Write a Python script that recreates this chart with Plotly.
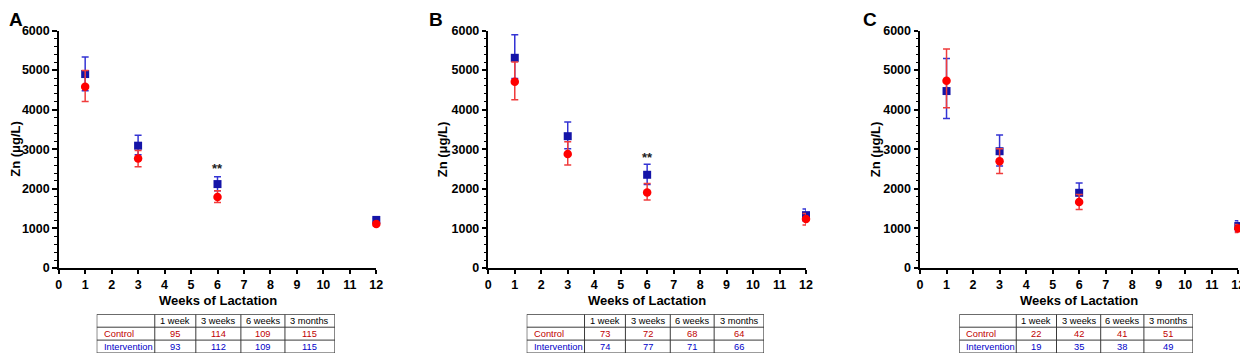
import plotly.graph_objects as go

# ---------------- data ----------------
weeks = [1, 3, 6, 12]
time_labels = ["1 week", "3 weeks", "6 weeks", "3 months"]
group_labels = ["Control", "Intervention"]
panel_letters = ["A", "B", "C"]

# Zn (ug/L) means and error bars (upper / lower)
A_control = [4580, 2765, 1795, 1110]
A_control_up = [410, 205, 155, 55]
A_control_dn = [375, 205, 140, 55]
A_interv = [4900, 3090, 2120, 1215]
A_interv_up = [430, 265, 185, 45]
A_interv_dn = [420, 230, 170, 45]

B_control = [4705, 2880, 1910, 1235]
B_control_up = [500, 310, 225, 140]
B_control_dn = [455, 275, 195, 150]
B_interv = [5310, 3330, 2355, 1335]
B_interv_up = [580, 360, 265, 155]
B_interv_dn = [520, 320, 245, 150]

C_control = [4730, 2700, 1665, 1000]
C_control_up = [800, 310, 190, 100]
C_control_dn = [680, 310, 185, 100]
C_interv = [4470, 2950, 1900, 1060]
C_interv_up = [825, 410, 250, 135]
C_interv_dn = [690, 370, 250, 135]

# significance marks
sig_week = [6, 6, None]
sig_level = [2590, 2880, None]

# sample sizes
A_n_control = [95, 114, 109, 115]
A_n_interv = [93, 112, 109, 115]
B_n_control = [73, 72, 68, 64]
B_n_interv = [74, 77, 71, 66]
C_n_control = [22, 42, 41, 51]
C_n_interv = [19, 35, 38, 49]

# ---------------- style ----------------
OFF = 8                      # page body margin of the written html
W, H = 1248 - OFF, 356 - OFF
FONT = "Arial, Liberation Sans, sans-serif"
RED = "#FF0000"
RED_ERR = "#F03C3C"
BLUE = "#1414A8"
BLUE_ERR = "#3434D4"
TXT_RED = "#C00000"
TXT_BLUE = "#0000C8"
GRID = "#3a3a3a"
TABLE_FONT = 9.3

def px_x(p):
    return (p - OFF) / W

def px_y(p):
    return 1 - (p - OFF) / H

plot_x = [(58.7, 376.3), (488.3, 806.0), (920.0, 1238.3)]
plot_y = (30.5, 268.0)
table_x = [(96.7, 335.0), (526.7, 764.0), (959.3, 1193.0)]
table_y = (314.3, 353.0)
col_w = [58, 41, 45, 44, 50]
letter_x = [16, 436, 870]
ytitle_x = [15.5, 442, 875]

panels = [
    (A_control, A_control_up, A_control_dn, A_interv, A_interv_up, A_interv_dn, A_n_control, A_n_interv),
    (B_control, B_control_up, B_control_dn, B_interv, B_interv_up, B_interv_dn, B_n_control, B_n_interv),
    (C_control, C_control_up, C_control_dn, C_interv, C_interv_up, C_interv_dn, C_n_control, C_n_interv),
]

fig = go.Figure()
annotations = []
shapes = []
layout = {}

for i, (ctl, ctl_up, ctl_dn, itv, itv_up, itv_dn, n_ctl, n_itv) in enumerate(panels):
    k = "" if i == 0 else str(i + 1)
    xa, ya = "x" + k, "y" + k

    fig.add_trace(go.Scatter(
        x=weeks, y=itv, mode="markers", xaxis=xa, yaxis=ya, cliponaxis=False,
        marker=dict(symbol="square", size=8, color=BLUE, line=dict(width=0)),
        error_y=dict(type="data", array=itv_up, arrayminus=itv_dn, symmetric=False,
                     color=BLUE_ERR, thickness=1.5, width=3.5),
        showlegend=False, name="Intervention"))
    fig.add_trace(go.Scatter(
        x=weeks, y=ctl, mode="markers", xaxis=xa, yaxis=ya, cliponaxis=False,
        marker=dict(symbol="circle", size=8.5, color=RED, line=dict(width=0)),
        error_y=dict(type="data", array=ctl_up, arrayminus=ctl_dn, symmetric=False,
                     color=RED_ERR, thickness=1.5, width=3.5),
        showlegend=False, name="Control"))

    layout["xaxis" + k] = dict(
        domain=[px_x(plot_x[i][0]), px_x(plot_x[i][1])], anchor=ya, automargin=False,
        range=[0, 12], tickmode="linear", tick0=0, dtick=1,
        showline=True, linecolor="black", linewidth=2, mirror=False,
        ticks="outside", ticklen=4, tickwidth=1.5, tickcolor="black",
        showgrid=False, zeroline=False,
        tickfont=dict(family=FONT, size=12.5, color="black", weight="bold"))
    layout["yaxis" + k] = dict(
        domain=[px_y(plot_y[1]), px_y(plot_y[0])], anchor=xa, automargin=False,
        range=[0, 6000], tickmode="linear", tick0=0, dtick=1000,
        showline=True, linecolor="black", linewidth=2,
        ticks="outside", ticklen=4.5, tickwidth=1.5, tickcolor="black",
        minor=dict(dtick=200, ticks="outside", ticklen=2.5, tickwidth=1.2, tickcolor="black"),
        showgrid=False, zeroline=False,
        tickfont=dict(family=FONT, size=12.5, color="black", weight="bold"))

    # axis titles
    annotations.append(dict(
        text="Zn (μg/L)", textangle=-90, xref="paper", yref="paper",
        x=px_x(ytitle_x[i]), y=px_y((plot_y[0] + plot_y[1]) / 2),
        xanchor="center", yanchor="middle", showarrow=False,
        font=dict(family=FONT, size=13, color="black", weight="bold")))
    annotations.append(dict(
        text="Weeks of Lactation", xref="paper", yref="paper",
        x=px_x((plot_x[i][0] + plot_x[i][1]) / 2), y=px_y(300.7),
        xanchor="center", yanchor="middle", showarrow=False,
        font=dict(family=FONT, size=13, color="black", weight="bold")))
    # panel letter
    annotations.append(dict(
        text=panel_letters[i], xref="paper", yref="paper",
        x=px_x(letter_x[i]), y=1, xanchor="center", yanchor="top",
        showarrow=False, borderpad=0,
        font=dict(family=FONT, size=19, color="black", weight="bold")))
    # significance
    if sig_week[i] is not None:
        annotations.append(dict(
            text="**", xref=xa, yref=ya, x=sig_week[i], y=sig_level[i],
            xanchor="center", yanchor="middle", showarrow=False, yshift=-3,
            font=dict(family=FONT, size=13, color="#222222", weight="bold")))

    # ---- sample-size table on its own hidden axes ----
    tk = str(4 + i)
    txa, tya = "x" + tk, "y" + tk
    total_w = sum(col_w)
    layout["xaxis" + tk] = dict(domain=[px_x(table_x[i][0]), px_x(table_x[i][1])],
                                range=[0, total_w], visible=False, anchor=tya,
                                automargin=False, fixedrange=True)
    layout["yaxis" + tk] = dict(domain=[px_y(table_y[1]), px_y(table_y[0])],
                                range=[3, 0], visible=False, anchor=txa,
                                automargin=False, fixedrange=True)
    edges = [0]
    for w in col_w:
        edges.append(edges[-1] + w)
    for e in edges:
        shapes.append(dict(type="line", xref=txa, yref=tya, x0=e, x1=e, y0=0, y1=3,
                           line=dict(color=GRID, width=1.2 if e in (0, total_w) else 1)))
    for r in range(4):
        shapes.append(dict(type="line", xref=txa, yref=tya, x0=0, x1=total_w, y0=r, y1=r,
                           line=dict(color=GRID, width=1.2 if r in (0, 3) else 1)))
    for j, lab in enumerate(time_labels):
        annotations.append(dict(
            text=lab, xref=txa, yref=tya, x=(edges[j + 1] + edges[j + 2]) / 2, y=0.5,
            xanchor="center", yanchor="middle", showarrow=False,
            font=dict(family=FONT, size=TABLE_FONT, color="black")))
    rows = [(group_labels[0], n_ctl, TXT_RED), (group_labels[1], n_itv, TXT_BLUE)]
    for r, (lab, vals, col) in enumerate(rows):
        annotations.append(dict(
            text=lab, xref=txa, yref=tya, x=5, y=r + 1.5,
            xanchor="left", yanchor="middle", showarrow=False,
            font=dict(family=FONT, size=TABLE_FONT, color=col)))
        for j, v in enumerate(vals):
            annotations.append(dict(
                text=str(v), xref=txa, yref=tya, x=(edges[j + 1] + edges[j + 2]) / 2, y=r + 1.5,
                xanchor="center", yanchor="middle", showarrow=False,
                font=dict(family=FONT, size=TABLE_FONT, color=col)))

fig.update_layout(
    template="none",
    width=W, height=H, margin=dict(l=0, r=0, t=0, b=0, autoexpand=False),
    paper_bgcolor="white", plot_bgcolor="white",
    showlegend=False, annotations=annotations, shapes=shapes, **layout)

fig.write_html("out.html")
